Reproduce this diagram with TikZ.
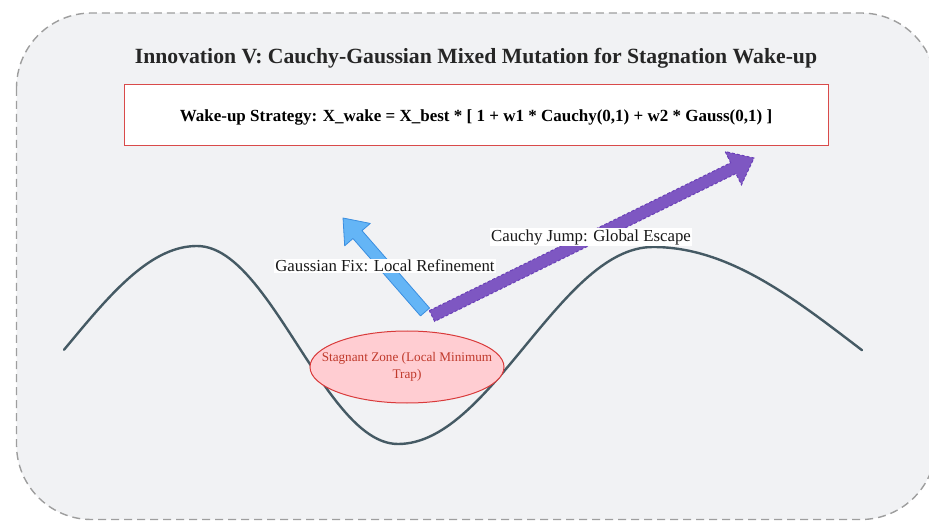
\documentclass[tikz,border=0pt]{standalone}
\usepackage{fontspec}
\setmainfont{Liberation Serif}
\usetikzlibrary{calc,shapes.geometric}

\definecolor{panelbg}{HTML}{F1F2F4}
\definecolor{panelrule}{HTML}{9E9E9E}
\definecolor{boxred}{HTML}{D94A4A}
\definecolor{curvecol}{HTML}{455A64}
\definecolor{zonefill}{HTML}{FFCDD2}
\definecolor{zonerule}{HTML}{D93A3A}
\definecolor{zonetext}{HTML}{C0392B}
\definecolor{gaussfill}{HTML}{64B5F6}
\definecolor{gaussrule}{HTML}{3A8EE0}
\definecolor{cauchyfill}{HTML}{7E57C2}
\definecolor{cauchyrule}{HTML}{6A40B8}

% broad block arrow: style, tail, tip, shaft half width, head half width, head length
\newcommand\broadarrow[6]{%
  \path let \p1=($(#3)-(#2)$), \n1={atan2(\y1,\x1)}, \n2={veclen(\x1,\y1)} in
    \pgfextra{\xdef\arrang{\n1}\xdef\arrlen{\n2}};
  \path[#1, shift={(#2)}, rotate=\arrang]
    (0,-#4) -- ({\arrlen-#6},-#4) -- ({\arrlen-#6},-#5) -- (\arrlen,0)
    -- ({\arrlen-#6},#5) -- ({\arrlen-#6},#4) -- (0,#4) -- cycle;
}

\tikzset{
  panel/.style={fill=panelbg, draw=panelrule, line width=1.4pt,
    dash pattern=on 8pt off 5pt, rounded corners=75pt},
  titletext/.style={font=\bfseries\fontsize{21.7}{26}\selectfont, text=black!85},
  formulabox/.style={draw=boxred, fill=white, line width=1pt,
    minimum width=704pt, minimum height=61pt},
  formulatext/.style={font=\bfseries\fontsize{17}{20}\selectfont, inner sep=0pt},
  landscape/.style={draw=curvecol, line width=2.4pt, line join=round, line cap=round},
  zone/.style={ellipse, draw=zonerule, fill=zonefill, line width=1pt,
    minimum width=194pt, minimum height=72pt, inner sep=0pt},
  zonelabel/.style={align=center, inner sep=0pt, text=zonetext,
    font=\fontsize{13.2}{17}\selectfont},
  gaussarrow/.style={fill=gaussfill, draw=gaussrule, line width=0.8pt, line join=round},
  cauchyarrow/.style={fill=cauchyfill, draw=cauchyrule, line width=1pt,
    dash pattern=on 3pt off 2pt},
  pathlabel/.style={fill=white, inner sep=1.2pt, text=black!90,
    font=\fontsize{16.8}{19}\selectfont},
}

\begin{document}
\begin{tikzpicture}[x=1pt, y=-1pt]
\useasboundingbox (0,0) rectangle (929,521);
\clip (0,0) rectangle (929,521);

% dashed background panel
\draw[panel] (16.5,13) rectangle (936,519.5);

% heading and update rule
\node[titletext] (title) at (476,58.5)
  {Innovation V: Cauchy-Gaussian Mixed Mutation for Stagnation Wake-up};
\node[formulabox] (rule) at (476,115.5) {};
\node[formulatext] (ruletext) at ([yshift=-1.5pt]rule.center)
  {Wake-up Strategy: X\_wake = X\_best * [ 1 + w1 * Cauchy(0,1) + w2 * Gauss(0,1) ]};

% fitness landscape: two peaks around a local minimum
\draw[landscape]
  plot[domain=64:197, samples=40] (\x, {444 - 99*(1-cos((\x+61)/258*180))})
  -- plot[domain=197:398, samples=50] (\x, {246 + 99*(1-cos((\x-197)/201*180))})
  -- plot[domain=398:653, samples=60] (\x, {444 - 98.5*(1-cos((\x-398)/255*180))})
  -- plot[domain=653:862, samples=50] (\x, {247 + 99*(1-cos((\x-653)/407*180))});

% trapped region
\node[zone] (trap) at (407,367) {};
\node[zonelabel] (traplabel) at (trap.center) {Stagnant Zone (Local Minimum\\Trap)};

% mutation moves
\coordinate (gTail) at (425,312);
\coordinate (gTip) at (343,218);
\coordinate (cTail) at (432,316);
\coordinate (cTip) at (754,158);
\broadarrow{gaussarrow}{gTail}{gTip}{6}{17}{22}
\broadarrow{cauchyarrow}{cTail}{cTip}{6}{18.5}{23}

\node[pathlabel] (glabel) at (385,266) {Gaussian Fix: Local Refinement};
\node[pathlabel] (clabel) at (591,237) {Cauchy Jump: Global Escape};
\end{tikzpicture}
\end{document}
